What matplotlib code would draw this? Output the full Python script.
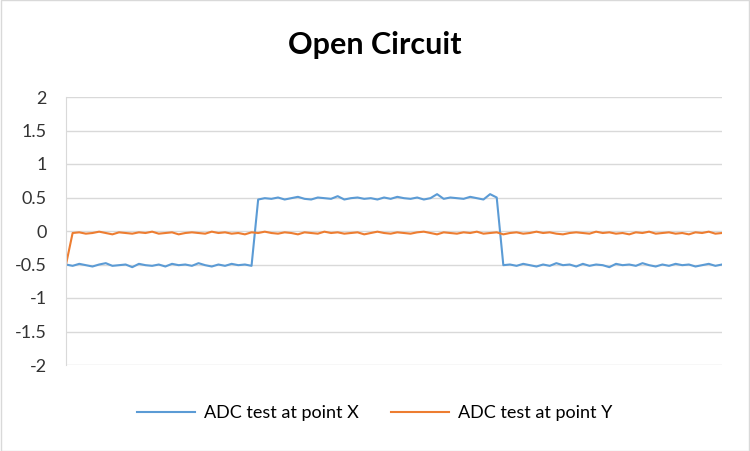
import matplotlib
matplotlib.use("Agg")
import matplotlib.pyplot as plt

title = "Open Circuit"
series_names = ["ADC test at point X", "ADC test at point Y"]
y_ticks = [-2, -1.5, -1, -0.5, 0, 0.5, 1, 1.5, 2]
y_tick_labels = ["-2", "-1.5", "-1", "-0.5", "0", "0.5", "1", "1.5", "2"]

adc_x = [-0.50,-0.52,-0.49,-0.51,-0.53,-0.50,-0.48,-0.52,-0.51,-0.50,-0.54,-0.49,-0.51,-0.52,-0.50,-0.53,-0.49,-0.51,-0.50,-0.52,-0.48,-0.51,-0.53,-0.50,-0.52,-0.49,-0.51,-0.50,-0.52,
         0.47,0.49,0.48,0.50,0.47,0.49,0.51,0.48,0.47,0.50,0.49,0.48,0.52,0.47,0.49,0.50,0.48,0.49,0.47,0.50,0.48,0.51,0.49,0.48,0.50,0.47,0.49,0.55,0.48,0.50,0.49,0.48,0.51,0.49,0.47,0.55,0.50,
         -0.51,-0.50,-0.52,-0.49,-0.51,-0.53,-0.50,-0.52,-0.48,-0.51,-0.50,-0.53,-0.49,-0.52,-0.50,-0.51,-0.54,-0.49,-0.51,-0.50,-0.52,-0.48,-0.51,-0.53,-0.50,-0.52,-0.49,-0.51,-0.50,-0.53,-0.51,-0.49,-0.52,-0.50]
adc_y = [-0.50,-0.03,-0.02,-0.04,-0.03,-0.01,-0.03,-0.05,-0.02,-0.03,-0.04,-0.02,-0.03,-0.01,-0.04,-0.03,-0.02,-0.05,-0.03,-0.02,
         -0.03,-0.04,-0.01,-0.03,-0.02,-0.04,-0.03,-0.05,-0.02,-0.03,-0.01,-0.03,-0.04,-0.02,-0.03,-0.05,-0.02,-0.03,-0.04,-0.01,
         -0.03,-0.02,-0.04,-0.03,-0.02,-0.05,-0.03,-0.01,-0.03,-0.04,-0.02,-0.03,-0.04,-0.02,-0.01,-0.03,-0.05,-0.02,-0.03,-0.04,
         -0.02,-0.03,-0.01,-0.04,-0.03,-0.02,-0.05,-0.03,-0.02,-0.04,-0.03,-0.01,-0.03,-0.02,-0.04,-0.05,-0.03,-0.02,-0.03,-0.04,
         -0.01,-0.03,-0.02,-0.04,-0.03,-0.05,-0.02,-0.03,-0.01,-0.04,-0.03,-0.02,-0.04,-0.03,-0.05,-0.02,-0.03,-0.01,-0.04,-0.03]

plt.rcParams['font.family'] = ['Lato', 'DejaVu Sans']
fig = plt.figure(figsize=(7.5, 4.51), dpi=100)
ax = fig.add_axes([66/750, 1-365/451, 656/750, 268/451])
xs = list(range(len(adc_x)))
ax.plot(xs, adc_x, color="#5B9BD5", lw=1.5, label=series_names[0])
ax.plot(xs, adc_y, color="#ED7D31", lw=1.5, label=series_names[1])
ax.set_xlim(0, len(adc_x) - 1)
ax.set_ylim(-2, 2)
ax.set_yticks(y_ticks)
ax.set_yticklabels(y_tick_labels, fontsize=13)
ax.set_xticks([])
ax.grid(axis='y', color="#D9D9D9", lw=1)
ax.set_axisbelow(True)
for s in ['top', 'right', 'bottom']:
    ax.spines[s].set_visible(False)
ax.spines['left'].set_color("#D9D9D9")
ax.tick_params(axis='y', length=0, pad=14, colors="#333333")
fig.text(0.5, 1-45/451, title, ha='center', va='center', fontsize=22, fontweight='bold')
fig.legend(loc='center', bbox_to_anchor=(0.5, 1-413/451), ncol=2, frameon=False,
           fontsize=13, handlelength=3.2, handletextpad=0.5, columnspacing=1.8)
fig.patches.append(plt.Rectangle((0.001, 0.001), 0.998, 0.998, transform=fig.transFigure,
                                 fill=False, edgecolor="#D9D9D9", lw=1))
fig.savefig("out.png", dpi=100)
